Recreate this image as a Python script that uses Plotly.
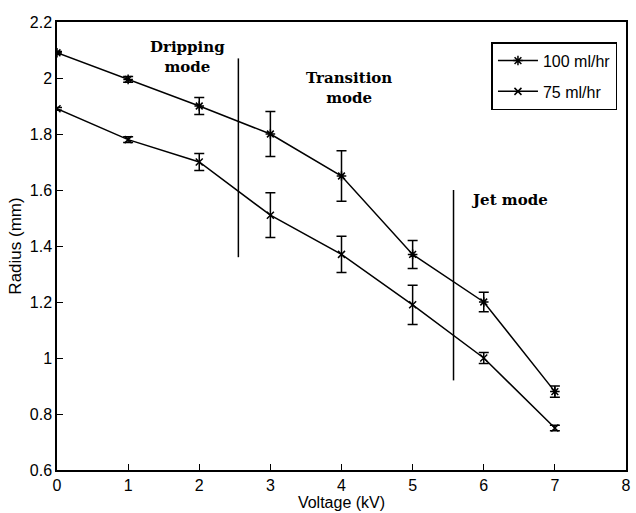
import plotly.graph_objects as go

voltage = [0, 1, 2, 3, 4, 5, 6, 7]
r100 = [2.09, 1.995, 1.90, 1.80, 1.65, 1.37, 1.20, 0.88]
e100 = [0.005, 0.01, 0.03, 0.08, 0.09, 0.05, 0.035, 0.02]
r75 = [1.89, 1.78, 1.70, 1.51, 1.37, 1.19, 1.00, 0.75]
e75 = [0.005, 0.01, 0.03, 0.08, 0.065, 0.07, 0.02, 0.01]

boundary1_x = [2.55, 2.55]
boundary1_y = [1.36, 2.07]
boundary2_x = [5.575, 5.575]
boundary2_y = [0.92, 1.60]

mode_labels = ["Dripping<br>mode", "Transition<br>mode", "Jet mode"]
mode_x = [1.83, 4.11, 6.36]
mode_y = [2.075, 1.964, 1.564]

fig = go.Figure()
fig.add_trace(go.Scatter(
    x=voltage, y=r100, name="100 ml/hr", mode="lines+markers", legendgroup="a",
    line=dict(color="black", width=1.5),
    marker=dict(symbol="asterisk-open", size=8, color="black", line=dict(width=1.5, color="black")),
    error_y=dict(type="data", array=e100, visible=True, color="black", thickness=1.5, width=5),
))
fig.add_trace(go.Scatter(
    x=voltage, y=r75, name="75 ml/hr", mode="lines+markers", legendgroup="b",
    line=dict(color="black", width=1.5),
    marker=dict(symbol="x-thin-open", size=7, color="black", line=dict(width=1.5, color="black")),
    error_y=dict(type="data", array=e75, visible=True, color="black", thickness=1.5, width=5),
))
for bx, by in [(boundary1_x, boundary1_y), (boundary2_x, boundary2_y)]:
    fig.add_trace(go.Scatter(x=bx, y=by, mode="lines", showlegend=False,
                             line=dict(color="black", width=1.5), hoverinfo="skip"))

for t, x, y in zip(mode_labels, mode_x, mode_y):
    fig.add_annotation(x=x, y=y, text=t, showarrow=False,
                       font=dict(family="DejaVu Serif", size=15, color="black", weight="bold"))

fig.update_layout(
    width=636, height=513,
    margin=dict(l=57, r=5, t=22, b=43),
    paper_bgcolor="white", plot_bgcolor="white",
    font=dict(family="Liberation Sans, Arial", color="black", size=16),
    showlegend=True,
    legend=dict(x=0.985, y=0.955, xanchor="right", yanchor="top",
                bordercolor="black", borderwidth=1.5, bgcolor="white",
                font=dict(size=16), tracegroupgap=7, itemwidth=40),
)
fig.update_xaxes(range=[0, 8], dtick=1, showline=True, linecolor="black", linewidth=1.5,
                 mirror=True, ticks="inside", ticklen=6, tickcolor="black", showgrid=False,
                 zeroline=False, tickfont=dict(size=16),
                 title=dict(text="Voltage (kV)", font=dict(size=16), standoff=0))
fig.update_yaxes(range=[0.6, 2.2], dtick=0.2, showline=True, linecolor="black", linewidth=1.5,
                 mirror=True, ticks="inside", ticklen=6, tickcolor="black", showgrid=False,
                 zeroline=False, tickfont=dict(size=16),
                 title=dict(text="Radius (mm)", font=dict(size=17), standoff=4))

fig.write_html("out.html")
